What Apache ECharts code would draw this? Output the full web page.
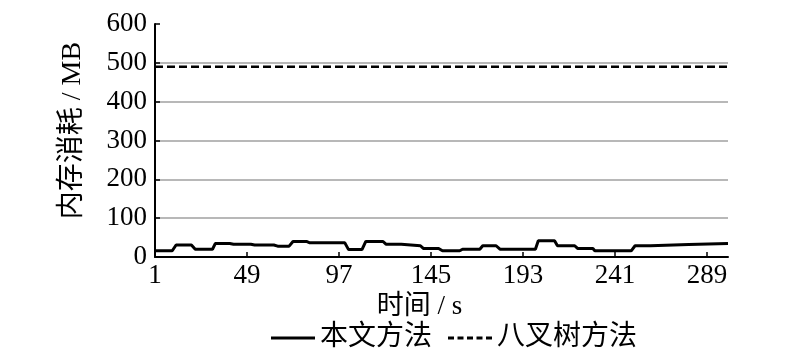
<!DOCTYPE html>
<html>
<head>
<meta charset="utf-8">
<script src="https://cdn.jsdelivr.net/npm/echarts@6/dist/echarts.min.js"></script>
<style>html,body{margin:0;padding:0;background:#fff}#c{width:800px;height:358px}</style>
</head>
<body>
<div id="c"></div>
<script>
// time in seconds (1-based) and memory in MB
var solidTime = [1,10,12,20,22,31,32.5,40,42,51,53,63,65,71,73,80,81.5,100,102,109,111,120,121.5,129.5,130.5,139.5,141,149,151,160,161.5,170.5,172,179,181,199.5,201,209.5,211,220,221.5,229.5,230.5,249.5,251.5,259.5,260.5,279.5,280.5,300];
var solidMem  = [16,16,31,31,20,20,35,35,33,33,31,31,28,28,40,40,37,37,19,19,40,40,33,33,29,29,22,22,16,16,20,20,29,29,20,20,42,42,29,29,22,22,16,16,29,29,32,32,35,35];
var octreeTime = [1,300];
var octreeMem = [490,490];
var xTicks = ['1','49','97','145','193','241','289'];
var seriesNames = ['本文方法','八叉树方法'];

var font = '"Liberation Serif","Times New Roman","Noto Sans CJK SC",serif';
function pairs(t, v){ return t.map(function(x,i){ return [x-1, v[i]]; }); }

var solidIcon = 'path://M0,0H44V3H0Z';
var dashIcon = 'path://M0,0H6V3H0Z M9.5,0H15.5V3H9.5Z M19,0H25V3H19Z M28.5,0H34.5V3H28.5Z M38,0H44V3H38Z';

var chart = echarts.init(document.getElementById('c'));
chart.setOption({
  animation:false,
  backgroundColor:'#fff',
  grid:{left:155,right:72,top:24,bottom:101},
  legend:{
    bottom:1, left:266, itemWidth:44, itemHeight:3, itemGap:16,
    textStyle:{fontFamily:font,fontSize:28,color:'#000'},
    data:[{name:seriesNames[0],icon:solidIcon,itemStyle:{color:'#000'}},
          {name:seriesNames[1],icon:dashIcon,itemStyle:{color:'#000'}}]
  },
  xAxis:{
    type:'value', min:0, max:299, interval:48,
    name:'时间 / s', nameLocation:'middle', nameGap:33,
    nameTextStyle:{fontFamily:font,fontSize:27,color:'#000',padding:[0,44,0,0]},
    axisLine:{lineStyle:{color:'#000',width:2}},
    axisTick:{inside:true,length:5,lineStyle:{color:'#000',width:1.5}},
    axisLabel:{fontFamily:font,fontSize:27,color:'#000',margin:5,
      formatter:function(v){ var i=Math.round(v/48); return xTicks[i]!==undefined?xTicks[i]:''; }},
    splitLine:{show:false}
  },
  yAxis:{
    type:'value', min:0, max:600, interval:100,
    name:'内存消耗 / MB', nameLocation:'middle', nameGap:68,
    nameTextStyle:{fontFamily:font,fontSize:28,color:'#000',padding:[0,0,0,20]},
    axisLine:{show:true,lineStyle:{color:'#000',width:2}},
    axisTick:{show:true,inside:true,length:5,lineStyle:{color:'#000',width:1.5}},
    axisLabel:{fontFamily:font,fontSize:27,color:'#000',margin:8},
    splitLine:{show:true,showMaxLine:false,lineStyle:{color:'#a0a0a0',width:1.5}}
  },
  series:[
    {name:seriesNames[0],type:'line',data:pairs(solidTime,solidMem),symbol:'none',
     lineStyle:{color:'#000',width:3},itemStyle:{color:'#000'}},
    {name:seriesNames[1],type:'line',data:pairs(octreeTime,octreeMem),symbol:'none',
     lineStyle:{color:'#000',width:2.5,type:[8,4]},itemStyle:{color:'#000'}}
  ]
});
</script>
</body>
</html>
